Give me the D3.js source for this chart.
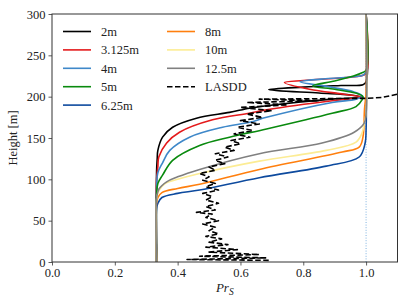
<!DOCTYPE html>
<html>
	<head>
		<meta charset="utf-8">
		<title>Prs profiles</title>
		<style>
			html, body { margin: 0; padding: 0; background: white; }
			svg { display: block; }
			svg text { font-family: "Liberation Serif", "Times New Roman", Times, "DejaVu Serif", serif; fill: #222; }
			.tick text { font-size: 12.5px; }
			.legend text { font-size: 12.5px; }
		</style>
	</head>
	<body>
		<div id="chart"></div>
		<script src="https://cdn.jsdelivr.net/npm/d3@7"></script>
		<script>
			// profiles of Prs against height, [Prs, height in m]
			var prs2m = [[0.333,0],[0.333,110],[0.335,125],[0.337,135],[0.352,151],[0.384,163],[0.46,174],[0.565,181],[0.629,186],[0.683,189],[0.892,197],[0.968,198.5],[0.987,199.5],[0.95,202],[0.85,204.5],[0.69,208.5],[0.80,211.5],[0.92,213.5],[0.99,214.5],[1.0,218],[1.0,300]]
			var prs3m = [[0.333,0],[0.333,100],[0.337,115],[0.34,127],[0.365,144],[0.406,157],[0.511,172],[0.629,180],[0.683,184],[0.892,195],[0.968,198],[0.987,199.5],[0.93,203],[0.82,209],[0.74,217],[0.80,219.5],[0.92,222.5],[0.98,225],[1.0,228],[1.0,300]]
			var prs4m = [[0.333,0],[0.333,90],[0.337,108],[0.352,120],[0.375,135],[0.438,151],[0.543,163],[0.629,169],[0.683,175],[0.892,193],[0.968,197],[0.988,201],[0.96,206],[0.88,212],[0.79,218],[0.88,222],[0.96,224],[0.99,226],[1.0,230],[1.0,300]]
			var prs5m = [[0.333,0],[0.333,80],[0.337,95],[0.352,105],[0.384,123],[0.47,141],[0.565,151],[0.683,161],[0.892,180],[0.968,188],[0.987,196],[0.99,200],[0.97,204],[0.90,209],[0.83,213],[0.90,219],[0.96,225],[0.987,229],[1.0,232],[1.0,300]]
			var prs6m = [[0.333,0],[0.333,65],[0.337,71],[0.35,78],[0.40,83],[0.47,87],[0.66,102],[0.873,116],[0.978,127],[0.997,144],[1.0,160],[1.0,300]]
			var prs8m = [[0.333,0],[0.333,72],[0.337,78],[0.35,84],[0.40,89],[0.47,94],[0.66,112],[0.924,133],[0.978,139],[0.99,151],[0.995,185],[1.0,205],[1.0,300]]
			var prs10m = [[0.333,0],[0.333,76],[0.34,86],[0.36,95],[0.40,100],[0.47,107],[0.66,122],[0.873,135],[0.968,145],[0.987,156],[0.995,170],[1.0,180],[1.0,300]]
			var prs12m = [[0.333,0],[0.333,77],[0.34,88],[0.365,97],[0.40,103],[0.47,112],[0.66,131],[0.86,144],[0.962,157],[0.994,168],[1.0,180],[1.0,300]]
			var lasdd = [[0.69,2],[0.43,3],[0.68,5],[0.47,7],[0.66,9],[0.50,12],[0.59,15],[0.49,18],[0.56,21],[0.50,24],[0.54,28],[0.49,31],[0.53,34],[0.50,38],[0.52,42],[0.48,46],[0.53,50],[0.49,54],[0.51,58],[0.46,60],[0.52,63],[0.49,67],[0.53,71],[0.49,75],[0.51,79],[0.48,83],[0.53,87],[0.49,91],[0.52,95],[0.48,99],[0.50,103],[0.47,107],[0.52,111],[0.50,115],[0.55,119],[0.52,123],[0.56,127],[0.52,131],[0.58,135],[0.55,139],[0.60,143],[0.57,147],[0.63,151],[0.58,155],[0.64,159],[0.59,163],[0.66,167],[0.60,171],[0.67,175],[0.62,179],[0.70,183],[0.60,187],[0.75,190],[0.62,193],[0.85,195],[0.66,197],[1.0,198],[1.05,199],[1.1,203],[1.2,206]]

			var names = ["2m", "3.125m", "4m", "5m", "6.25m", "8m", "10m", "12.5m", "LASDD"]
			var colors = ["#000000", "#e41a1c", "#3f88c9", "#098a0e", "#0d4a9e", "#ff7f0e", "#fcec94", "#808080", "#000000"]
			var profiles = [prs2m, prs3m, prs4m, prs5m, prs6m, prs8m, prs10m, prs12m, lasdd]

			var xTicks = [0, 0.2, 0.4, 0.6, 0.8, 1.0]
			var yTicks = [0, 50, 100, 150, 200, 250, 300]

			var width = 407, height = 305
			var plotL = 52, plotR = 397.5, plotT = 14, plotB = 262
			var serif = "'Liberation Serif', 'Times New Roman', Times, 'DejaVu Serif', serif"

			var svg = d3.select("#chart").append("svg")
				.attr("width", width)
				.attr("height", height)

			var x = d3.scaleLinear().domain([0, 1.1]).range([plotL, plotR])
			var y = d3.scaleLinear().domain([0, 300]).range([plotB, plotT])

			svg.append("clipPath").attr("id", "clip")
				.append("rect")
				.attr("x", plotL).attr("y", plotT)
				.attr("width", plotR - plotL).attr("height", plotB - plotT)

			var plot = svg.append("g").attr("clip-path", "url(#clip)")

			// dotted reference line at Prs = 1
			plot.append("line")
				.attr("x1", x(1)).attr("x2", x(1))
				.attr("y1", y(0)).attr("y2", y(300))
				.attr("stroke", "#7fb2e0")
				.attr("stroke-width", 1)
				.attr("stroke-dasharray", "1,1.6")

			var smooth = d3.line()
				.x(function(d) { return x(d[0]) })
				.y(function(d) { return y(d[1]) })
				.curve(d3.curveCatmullRom.alpha(0.5))

			var straight = d3.line()
				.x(function(d) { return x(d[0]) })
				.y(function(d) { return y(d[1]) })

			profiles.forEach(function(p, i) {
				var dashed = names[i] === "LASDD"
				plot.append("path")
					.attr("d", dashed ? straight(p) : smooth(p))
					.attr("fill", "none")
					.attr("stroke", colors[i])
					.attr("stroke-width", 1.6)
					.attr("stroke-linejoin", "round")
					.attr("stroke-dasharray", dashed ? "5.5,2.5" : null)
			})

			// axes
			var gx = svg.append("g")
				.attr("transform", "translate(0," + plotB + ")")
				.call(d3.axisBottom(x).tickValues(xTicks).tickFormat(d3.format(".1f")).tickSize(3.5).tickPadding(3))
			var gy = svg.append("g")
				.attr("transform", "translate(" + plotL + ",0)")
				.call(d3.axisLeft(y).tickValues(yTicks).tickSize(3.5).tickPadding(3))

			gx.attr("font-family", serif).attr("font-size", 12.5)
			gy.attr("font-family", serif).attr("font-size", 12.5)
			svg.selectAll(".domain").remove()
			svg.selectAll(".tick line").attr("stroke", "#333").attr("stroke-width", 0.8)
			svg.selectAll(".tick text").attr("fill", "#222")

			svg.append("rect")
				.attr("x", plotL).attr("y", plotT)
				.attr("width", plotR - plotL).attr("height", plotB - plotT)
				.attr("fill", "none")
				.attr("stroke", "#333")
				.attr("stroke-width", 1)

			// axis labels
			svg.append("text")
				.attr("transform", "translate(17," + ((plotT + plotB) / 2) + ") rotate(-90)")
				.attr("text-anchor", "middle")
				.attr("font-family", serif)
				.style("font-size", "12.5px")
				.text("Height [m]")

			var xl = svg.append("text")
				.attr("x", (plotL + plotR) / 2)
				.attr("y", 292)
				.attr("text-anchor", "middle")
				.attr("font-family", serif)
				.style("font-size", "13px")
				.style("font-style", "italic")
			xl.append("tspan").text("Pr")
			xl.append("tspan").attr("dy", 2.5).style("font-size", "9.5px").text("S")

			// legend, two columns
			var legend = svg.append("g").attr("class", "legend").attr("font-family", serif)
			names.forEach(function(n, i) {
				var col = i < 5 ? 0 : 1
				var row = i < 5 ? i : i - 5
				var lx = col === 0 ? 63 : 167
				var ly = 31.5 + row * 18.4
				legend.append("line")
					.attr("x1", lx).attr("x2", lx + 28)
					.attr("y1", ly).attr("y2", ly)
					.attr("stroke", colors[i])
					.attr("stroke-width", 1.6)
					.attr("stroke-dasharray", n === "LASDD" ? "5.5,2.5" : null)
				legend.append("text")
					.attr("x", lx + 38)
					.attr("y", ly + 4.5)
					.text(n)
			})
		</script>
	</body>
</html>
